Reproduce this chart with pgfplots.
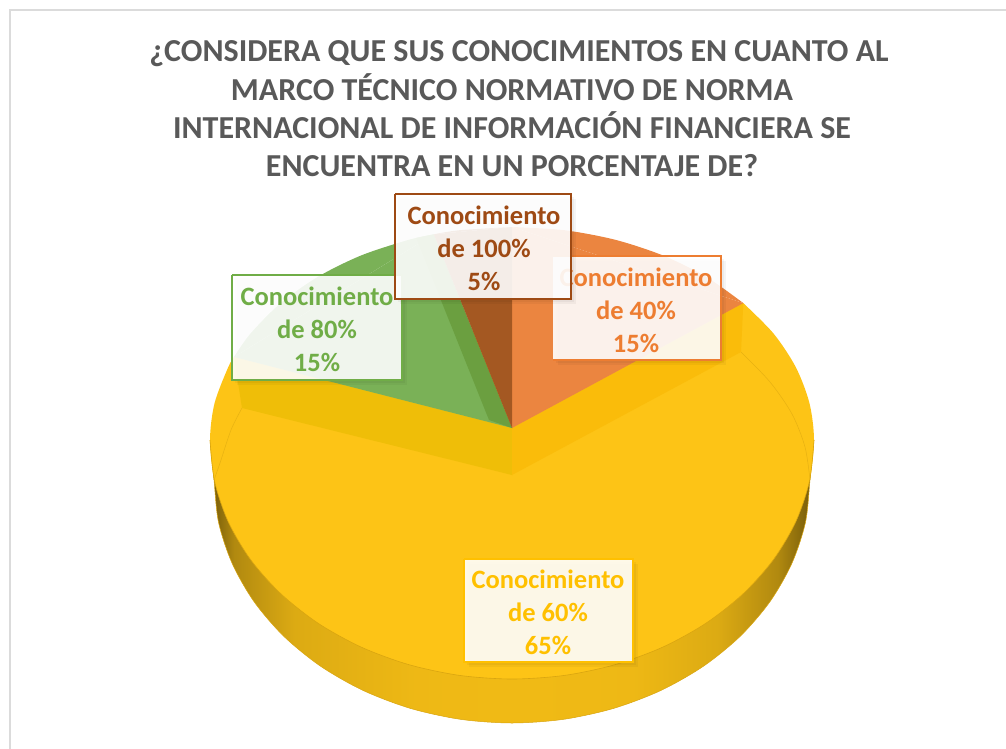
\documentclass[border=0pt]{standalone}
\usepackage{fontspec}
\setmainfont{Carlito}
\usepackage{pgfplots}
\pgfplotsset{compat=1.18}
\definecolor{tcol}{HTML}{595959}
\definecolor{yel}{HTML}{FDC416}
\definecolor{yelT}{HTML}{FFC000}
\definecolor{oraF}{HTML}{EB8540}
\definecolor{oraT}{HTML}{ED7D31}
\definecolor{greF}{HTML}{7AB157}
\definecolor{greD}{HTML}{6B9F40}
\definecolor{greT}{HTML}{70AD47}
\definecolor{broF}{HTML}{A45822}
\definecolor{broT}{HTML}{9E4A14}
\definecolor{wallL}{HTML}{EFBE08}
\definecolor{wallR}{HTML}{FABC0A}
\definecolor{edgeY}{HTML}{D9A510}
\pgfdeclarehorizontalshading{sidewall}{100bp}{
 color(0bp)=(black!55!yel); color(25bp)=(black!55!yel);
 color(27bp)=(black!30!yel); color(32bp)=(black!13!yel);
 color(42bp)=(black!6!yel); color(50bp)=(black!5!yel);
 color(60bp)=(black!6!yel); color(67bp)=(black!13!yel);
 color(72bp)=(black!30!yel); color(75bp)=(black!55!yel); color(100bp)=(black!55!yel)}
\begin{document}
\begin{tikzpicture}
\path[use as bounding box] (0,0) rectangle (1006pt,749pt);
\begin{axis}[at={(0,0)},anchor=south west,width=1006pt,height=749pt,scale only axis,
  xmin=0,xmax=1006,ymin=0,ymax=749,y dir=reverse,hide axis,clip=false,no marks]
% frame
\addplot[draw=black!14,line width=1.5pt] coordinates {(10,749)(10,10)(1006,10)};
% side wall of the 65% slice
\addplot[smooth,shading=sidewall,draw=edgeY,line width=.5pt] coordinates {
 (814,440)(810,480)(805.5,522.2)(792,563.1)(770.1,601.5)(740.3,636.2)(703.6,666.1)(661,690.4)(613.9,708.3)(563.7,719.3)(512,723)
 (460.3,719.3)(410.1,708.3)(363,690.4)(320.4,666.1)(283.7,636.2)(253.9,601.5)(232,563.1)(218.5,522.2)(214,480)(210,440)};
% 65% top face
\addplot[smooth,fill=yel,draw=none] coordinates {
 (743.3,303.1)(773.5,333.5)(795.8,367.2)(809.4,403)(814,440)(809.4,481.5)(795.8,521.7)(773.5,559.5)(743.3,593.6)(706.1,623.1)(663,647)(615.3,664.6)(564.4,675.4)(512,679)
 (459.6,675.4)(408.7,664.6)(361,647)(317.9,623.1)(280.7,593.6)(250.5,559.5)(228.2,521.7)(214.6,481.5)(210,440)(214.6,403)(228.2,367.2)(234,357)};
\addplot[fill=yel,draw=none] coordinates {(512,428)(743.3,303.1)(234,357)};
\addplot[smooth,draw=edgeY,line width=.6pt] coordinates {
 (814,440)(809.4,481.5)(795.8,521.7)(773.5,559.5)(743.3,593.6)(706.1,623.1)(663,647)(615.3,664.6)(564.4,675.4)(512,679)
 (459.6,675.4)(408.7,664.6)(361,647)(317.9,623.1)(280.7,593.6)(250.5,559.5)(228.2,521.7)(214.6,481.5)(210,440)};
% faint outline of the bottom face
\addplot[smooth,draw=edgeY!60!yel,line width=.5pt] coordinates {(741,352)(770,382)(792,414)(805,447)(810,480)};
\addplot[smooth,draw=edgeY!60!yel,line width=.5pt] coordinates {(242,408)(231,430)(220,463)(214,480)};
% inner walls
\addplot[fill=wallL,draw=none] coordinates {(512,428)(512,475)(242,408)(234,357)};
\addplot[fill=wallR,draw=none] coordinates {(512,428)(512,475)(741,352)(743.3,303.1)};
% 15% orange
\addplot[smooth,fill=oraF,draw=none] coordinates {(512,227)(564.4,230.2)(615.3,239.8)(663,255.5)(706.1,276.8)(743.3,303.1)};
\addplot[fill=oraF,draw=none] coordinates {(512,428)(512,227)(743.3,303.1)};
% 15% green
\addplot[smooth,fill=greF,draw=none] coordinates {(433.8,234.3)(408.7,239.8)(361,255.5)(317.9,276.8)(280.7,303.1)(250.5,333.5)(234,357)};
\addplot[fill=greF,draw=none] coordinates {(512,428)(433.8,234.3)(234,357)};
\addplot[fill=greD,draw=none] coordinates {(512,428)(489,420)(416,238)(433.8,234.3)};
% 5% brown
\addplot[smooth,fill=broF,draw=none] coordinates {(512,227)(459.6,230.2)(433.8,234.3)};
\addplot[fill=broF,draw=none] coordinates {(512,428)(512,227)(433.8,234.3)};
% label boxes: 60%
\addplot[fill=black,fill opacity=.04,draw=none] coordinates {(469,564)(638,564)(638,667)(469,667)};
\addplot[fill=black,fill opacity=.04,draw=none] coordinates {(467,562)(636,562)(636,665)(467,665)};
\addplot[fill=white,fill opacity=.9,draw=yelT,line width=2pt] coordinates {(464,559)(633,559)(633,662)(464,662)(464,559)};
\node[text=yelT,align=center,font=\fontsize{26.5}{33}\selectfont\bfseries] at (axis cs:548,612) {Conocimiento\\de 60\%\\65\%};
% 40%
\addplot[fill=black,fill opacity=.04,draw=none] coordinates {(558,261)(726,261)(726,365)(558,365)};
\addplot[fill=black,fill opacity=.04,draw=none] coordinates {(556,259)(724,259)(724,363)(556,363)};
\addplot[fill=white,fill opacity=.9,draw=none] coordinates {(553,256)(721,256)(721,360)(553,360)};
\addplot[draw=oraT,line width=2pt] coordinates {(553,256)(721,256)(721,360)(553,360)};
\node[text=oraT,align=center,font=\fontsize{26.5}{33}\selectfont\bfseries] at (axis cs:636,310) {Conocimiento\\de 40\%\\15\%};
% 80%
\addplot[fill=black,fill opacity=.04,draw=none] coordinates {(237,280)(407,280)(407,385)(237,385)};
\addplot[fill=black,fill opacity=.04,draw=none] coordinates {(235,278)(405,278)(405,383)(235,383)};
\addplot[fill=white,fill opacity=.9,draw=greT,line width=2pt] coordinates {(232,275)(402,275)(402,380)(232,380)(232,275)};
\node[text=greT,align=center,font=\fontsize{26.5}{33}\selectfont\bfseries] at (axis cs:317,329) {Conocimiento\\de 80\%\\15\%};
% 100%
\addplot[fill=black,fill opacity=.04,draw=none] coordinates {(400,199)(576,199)(576,304)(400,304)};
\addplot[fill=black,fill opacity=.04,draw=none] coordinates {(398,197)(574,197)(574,302)(398,302)};
\addplot[fill=white,fill opacity=.9,draw=broT,line width=2pt] coordinates {(395,194)(571,194)(571,299)(395,299)(395,194)};
\node[text=broT,align=center,font=\fontsize{26.5}{33}\selectfont\bfseries] at (axis cs:484,248) {Conocimiento\\de 100\%\\5\%};
% title
\node[text=tcol,align=center,font=\fontsize{32}{38.3}\selectfont\bfseries] at (axis cs:512,109) {\hspace*{14pt}¿CONSIDERA QUE SUS CONOCIMIENTOS EN CUANTO AL\\MARCO TÉCNICO NORMATIVO DE NORMA\\INTERNACIONAL DE INFORMACIÓN FINANCIERA SE\\ENCUENTRA EN UN PORCENTAJE DE?};
\end{axis}
\end{tikzpicture}
\end{document}
